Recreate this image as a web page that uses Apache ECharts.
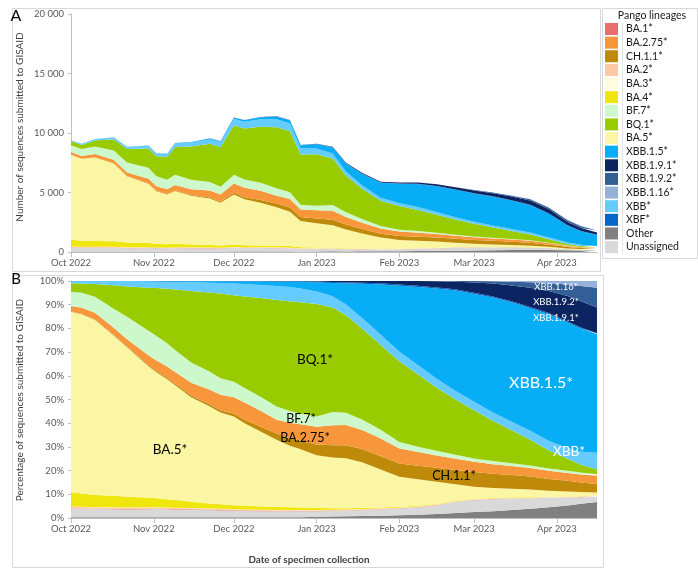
<!DOCTYPE html>
<html><head><meta charset="utf-8">
<script src="https://cdn.jsdelivr.net/npm/echarts@6/dist/echarts.min.js"></script>
<style>html,body{margin:0;padding:0;background:#fff}#c{width:698px;height:570px}</style>
</head><body><div id="c"></div>
<script>
// ---------- data ----------
const dates = ['2022-10-01','2022-10-05','2022-10-10','2022-10-17','2022-10-22','2022-10-30','2022-11-02','2022-11-06','2022-11-09','2022-11-15','2022-11-22','2022-11-26','2022-12-01','2022-12-05','2022-12-11','2022-12-17','2022-12-22','2022-12-26','2023-01-01','2023-01-07','2023-01-12','2023-01-18','2023-01-25','2023-02-01','2023-02-08','2023-02-15','2023-02-22','2023-03-01','2023-03-08','2023-03-15','2023-03-22','2023-03-29','2023-04-05','2023-04-10','2023-04-16'];
// total sequences submitted to GISAID (panel A envelope)
const totalSequences = [9400,9100,9500,9650,8850,8950,8300,8250,9150,9250,9550,9300,11300,11100,11350,11400,11100,9000,9100,8850,7500,6650,5900,5850,5850,5700,5450,5200,5000,4750,4450,3750,2700,2200,1850];
// share of sequences per lineage, % (panel B)
const shareOther      = [0.3,0.3,0.3,0.3,0.3,0.3,0.3,0.3,0.3,0.3,0.3,0.3,0.3,0.3,0.3,0.3,0.3,0.3,0.5,0.6,0.7,0.8,1.0,1.2,1.4,1.7,2.1,2.5,2.9,3.4,3.9,4.5,5.3,6.0,6.7];
const shareUnassigned = [3.7,3.6,3.5,3.4,3.3,3.4,3.5,3.4,3.3,3.2,3.0,2.9,2.8,2.7,2.6,2.5,2.5,2.5,2.4,2.4,2.4,2.5,2.6,2.8,3.0,3.6,4.6,5.0,5.0,4.8,4.4,4.0,3.3,2.8,2.3];
const shareBA1   = [0.15,0.15,0.15,0.15,0.15,0.15,0.15,0.15,0.15,0.15,0.15,0.15,0.12,0.12,0.12,0.12,0.12,0.12,0.1,0.1,0.1,0.1,0.1,0.1,0.1,0.1,0.1,0.08,0.08,0.08,0.08,0.08,0.05,0.05,0.05];
const shareBA2   = [0.6,0.6,0.6,0.6,0.6,0.6,0.5,0.5,0.5,0.5,0.5,0.5,0.4,0.4,0.4,0.4,0.4,0.4,0.3,0.3,0.3,0.3,0.3,0.25,0.25,0.25,0.25,0.2,0.2,0.2,0.2,0.2,0.2,0.2,0.2];
const shareBA3   = [0.1,0.1,0.1,0.1,0.1,0.1,0.1,0.1,0.1,0.1,0.1,0.1,0.1,0.1,0.1,0.1,0.1,0.1,0.1,0.1,0.1,0.1,0.1,0.1,0.1,0.1,0.1,0.08,0.08,0.08,0.08,0.08,0.05,0.05,0.05];
const shareBA4   = [6.0,5.6,5.1,4.8,4.5,4.0,3.8,3.5,3.2,2.6,2.1,1.9,1.7,1.5,1.3,1.2,1.1,1.0,0.8,0.6,0.5,0.4,0.35,0.3,0.3,0.25,0.2,0.2,0.2,0.15,0.15,0.1,0.1,0.1,0.1];
const shareBA5   = [76.15,75.65,73.75,67.65,63.05,55.45,53.15,50.55,48.45,44.15,40.85,38.65,37.38,34.88,31.68,28.38,25.98,24.58,22.3,21.4,21.1,19.3,16.05,12.65,11.15,9.3,6.85,5.14,4.24,3.59,3.19,2.54,2.2,1.8,1.4];
const shareCH11  = [0.2,0.2,0.3,0.3,0.4,0.5,0.5,0.6,0.6,0.7,0.9,1.0,1.2,1.5,2.0,2.7,3.2,3.6,4.5,5.2,5.5,5.6,5.6,5.6,5.7,5.9,6.1,6.2,6.0,5.8,5.5,5.0,4.5,4.0,3.5];
const shareBA275 = [2.3,2.5,2.8,3.0,3.0,4.2,4.5,4.8,5.0,5.4,6.2,6.5,7.0,7.2,6.8,5.8,6.5,7.0,7.5,8.4,8.5,8.0,7.4,6.3,5.8,5.2,4.7,4.3,4.0,3.8,3.6,3.4,3.3,3.4,3.5];
const shareBF7   = [6.0,6.3,6.8,8.0,9.5,10.3,10.3,9.8,9.3,8.5,7.6,7.0,6.5,6.2,5.9,5.5,5.0,4.5,4.3,5.6,5.2,4.5,3.7,2.8,2.3,2.0,1.7,1.4,1.3,1.2,1.1,1.0,0.9,0.8,0.7];
const shareBQ1   = [3.5,3.9,5.3,9.9,12.8,18.1,20.2,23.0,25.5,30.2,33.5,35.7,36.5,38.6,41.6,45.0,46.3,46.9,47.5,44.1,41.1,38.4,35.8,33.9,30.4,26.6,23.3,20.4,17.0,13.9,10.8,7.6,5.1,3.3,2.0];
const shareXBB   = [0.95,1.05,1.2,1.65,2.15,2.65,2.7,2.9,3.2,3.7,4.1,4.45,4.9,5.2,5.55,5.9,6.0,5.85,5.3,4.8,4.6,4.4,4.3,4.2,4.0,3.8,3.6,3.5,3.5,3.6,3.8,4.0,4.5,5.5,7.0];
const shareXBB15 = [0,0,0.05,0.1,0.1,0.2,0.2,0.3,0.3,0.4,0.6,0.7,0.9,1.1,1.4,1.8,2.2,2.8,3.8,5.6,8.9,14.4,21.2,27.8,33.0,38.0,42.4,45.5,48.5,50.4,51.7,53.5,53.0,52.0,50.1];
const shareXBF   = [0.05,0.05,0.05,0.05,0.05,0.05,0.1,0.1,0.1,0.1,0.1,0.15,0.2,0.2,0.2,0.2,0.2,0.2,0.4,0.4,0.4,0.45,0.5,0.5,0.5,0.5,0.5,0.5,0.5,0.5,0.5,0.45,0.4,0.4,0.4];
const shareXBB191= [0,0,0,0,0,0,0,0,0,0,0,0,0,0,0.05,0.1,0.1,0.15,0.2,0.4,0.6,0.75,1.0,1.5,2.0,2.6,3.2,4.4,5.4,6.6,8.1,9.35,10.8,11.1,10.8];
const shareXBB192= [0,0,0,0,0,0,0,0,0,0,0,0,0,0,0,0,0,0,0,0,0,0,0,0,0,0.1,0.3,0.6,1.0,1.6,2.4,3.3,4.8,6.4,8.4];
const shareXBB116= [0,0,0,0,0,0,0,0,0,0,0,0,0,0,0,0,0,0,0,0,0,0,0,0,0,0,0,0,0.1,0.3,0.5,0.9,1.5,2.1,2.8];

const countTicks = [0,5000,10000,15000,20000];
const pctTicks = [0,10,20,30,40,50,60,70,80,90,100];
const MONTHS = ['Jan','Feb','Mar','Apr','May','Jun','Jul','Aug','Sep','Oct','Nov','Dec'];

// stacking order (bottom -> top)
const lineages = [
  ['Other', shareOther], ['Unassigned', shareUnassigned], ['BA.1*', shareBA1], ['BA.2*', shareBA2],
  ['BA.3*', shareBA3], ['BA.4*', shareBA4], ['BA.5*', shareBA5], ['CH.1.1*', shareCH11],
  ['BA.2.75*', shareBA275], ['BF.7*', shareBF7], ['BQ.1*', shareBQ1], ['XBB*', shareXBB],
  ['XBB.1.5*', shareXBB15], ['XBF*', shareXBF], ['XBB.1.9.1*', shareXBB191], ['XBB.1.9.2*', shareXBB192],
  ['XBB.1.16*', shareXBB116]
];
const legendOrder = ['BA.1*','BA.2.75*','CH.1.1*','BA.2*','BA.3*','BA.4*','BF.7*','BQ.1*','BA.5*','XBB.1.5*','XBB.1.9.1*','XBB.1.9.2*','XBB.1.16*','XBB*','XBF*','Other','Unassigned'];

// ---------- styles ----------
const colors = {
  'BA.1*':'#e96d6b','BA.2.75*':'#f7963a','CH.1.1*':'#bf8a0a','BA.2*':'#fcc9a2','BA.3*':'#fffbdc',
  'BA.4*':'#eee60c','BF.7*':'#ccf8cc','BQ.1*':'#99cc00','BA.5*':'#fbf6a3','XBB.1.5*':'#07adf5',
  'XBB.1.9.1*':'#0c2461','XBB.1.9.2*':'#335e96','XBB.1.16*':'#97b2d8','XBB*':'#66ccff',
  'XBF*':'#0566c8','Other':'#808080','Unassigned':'#d9d9d9'
};
const FONT = 'Lato, "Open Sans", sans-serif';
const rowSum = dates.map((d, i) => lineages.reduce((s, l) => s + l[1][i], 0));
const ts = s => { const p = s.split('-'); return new Date(+p[0], +p[1]-1, +p[2]).getTime(); };

const series = [];
[0, 1].forEach(g => {
  lineages.forEach(([name, arr]) => {
    series.push({
      name, type:'line', xAxisIndex:g, yAxisIndex:g, stack: g ? 'pct' : 'cnt',
      symbol:'none', showSymbol:false, silent:true,
      color: colors[name], itemStyle:{color: colors[name]},
      lineStyle:{width:0}, areaStyle:{color: colors[name], opacity:1},
      data: dates.map((d, i) => [ts(d), g ? arr[i] / rowSum[i] * 100 : arr[i] / rowSum[i] * totalSequences[i]])
    });
  });
});

const monthFmt = v => { const d = new Date(v); return MONTHS[d.getMonth()] + ' ' + d.getFullYear(); };
const xAx = g => ({
  type:'time', gridIndex:g, min: ts(dates[0]), max: ts(dates[dates.length-1]),
  splitNumber:7, minInterval: 28*864e5, maxInterval: 31*864e5,
  axisLine:{show:true, lineStyle:{color:'#bfbfbf', width:1}},
  axisTick:{show:true, length:5, lineStyle:{color:'#bfbfbf'}},
  axisLabel:{formatter: monthFmt, color:'#595959', fontSize:9.5, fontFamily:FONT, margin:6, hideOverlap:false},
  splitLine:{show:false}
});
const yBase = {
  axisLine:{show:true, lineStyle:{color:'#bfbfbf'}},
  axisTick:{show:true, length:3, lineStyle:{color:'#bfbfbf'}},
  splitLine:{show:false}
};

const txt = (text, x, y, size, fill, extra) => Object.assign({
  type:'text', x, y, z:100, zlevel:0, silent:true,
  style: {text, fontSize:size, fontFamily:FONT, fill: fill || '#000', align:'center', verticalAlign:'middle'}
}, extra || {});

const option = {
  animation:false,
  backgroundColor:'#fff',
  grid:[
    {left:71, right:101, top:14, bottom:318},
    {left:71, right:101, top:281, bottom:52}
  ],
  xAxis:[xAx(0), xAx(1)],
  yAxis:[
    Object.assign({type:'value', gridIndex:0, min:countTicks[0], max:countTicks[countTicks.length-1], interval:countTicks[1]-countTicks[0],
      axisLabel:{color:'#595959', fontSize:9.5, fontFamily:FONT, margin:7,
        formatter: v => String(v).replace(/\B(?=(\d{3})+(?!\d))/g, ' ')}}, yBase),
    Object.assign({type:'value', gridIndex:1, min:pctTicks[0], max:pctTicks[pctTicks.length-1], interval:pctTicks[1]-pctTicks[0],
      axisLabel:{color:'#595959', fontSize:9.5, fontFamily:FONT, margin:7, formatter:'{value}%'}}, yBase)
  ],
  legend:{
    data: legendOrder, orient:'vertical', left:605, top:23, padding:0,
    itemWidth:13, itemHeight:12, itemGap:1.63, icon:'rect', selectedMode:false,
    textStyle:{fontSize:10.5, color:'#1a1a1a', fontFamily:FONT, lineHeight:12, padding:[0,0,0,3]}
  },
  series,
  graphic:[
    {type:'rect', silent:true, z:-1, shape:{x:12.5, y:8.5, width:588, height:263}, style:{fill:'none', stroke:'#d9d9d9', lineWidth:1}},
    {type:'rect', silent:true, z:-1, shape:{x:12.5, y:275.5, width:591, height:292}, style:{fill:'none', stroke:'#d9d9d9', lineWidth:1}},
    {type:'rect', silent:true, z:-1, shape:{x:602.5, y:8.5, width:95, height:250}, style:{fill:'none', stroke:'#d9d9d9', lineWidth:1}},
    {type:'line', silent:true, shape:{x1:622.5, y1:23, x2:622.5, y2:254}, style:{stroke:'#e3e3e3', lineWidth:1}},
    txt('Pango lineages', 652, 16, 10.5, '#1a1a1a'),
    txt('A', 16, 16, 16, '#000'),
    txt('B', 16, 279, 15, '#000'),
    txt('Number of sequences submitted to GISAID', 20, 127, 10, '#404040', {rotation:Math.PI/2}),
    txt('Percentage of sequences submitted to GISAID', 20, 400, 10, '#404040', {rotation:Math.PI/2}),
    Object.assign(txt('Date of specimen collection', 309, 560, 9.8, '#404040'), {}),
    txt('BA.5*', 170, 450, 13.5),
    txt('BQ.1*', 315, 360, 13.5),
    txt('BF.7*', 301, 419, 12.5),
    txt('BA.2.75*', 305, 438, 12.5),
    txt('CH.1.1*', 454, 476, 12.5),
    txt('XBB.1.5*', 541, 383, 16, '#fff'),
    txt('XBB*', 569, 452, 13.5, '#fff'),
    txt('XBB.1.16*', 556, 287, 9.5, '#fff'),
    txt('XBB.1.9.2*', 556, 302, 9.5, '#fff'),
    txt('XBB.1.9.1*', 556, 318, 9.5, '#fff')
  ]
};
option.graphic[9].style.fontWeight = 'bold';
echarts.init(document.getElementById('c'), null, {renderer:'canvas'}).setOption(option);
</script>
</body></html>
